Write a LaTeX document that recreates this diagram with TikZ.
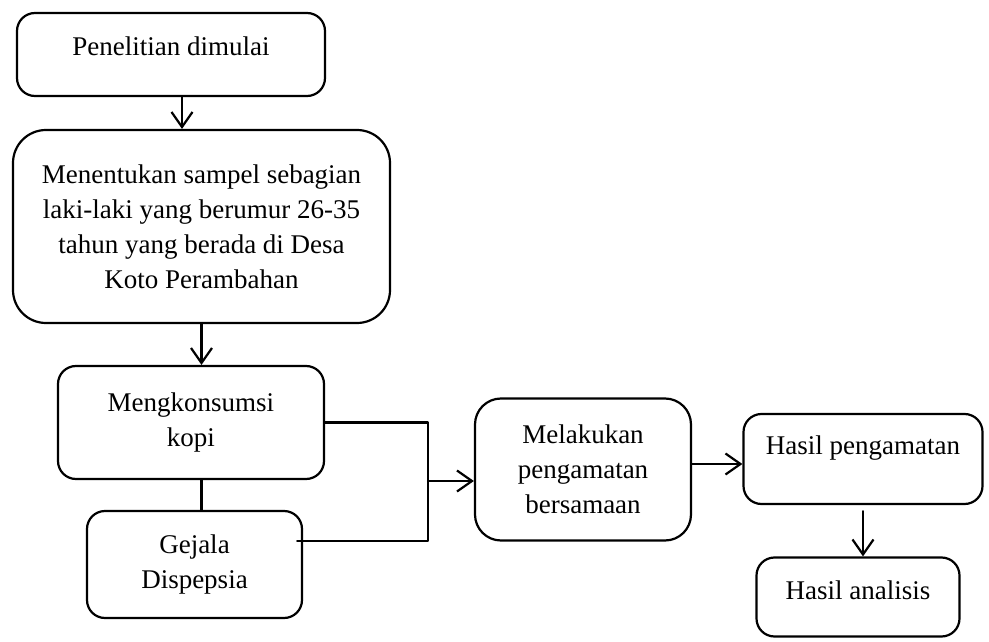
\documentclass[tikz,border=0pt]{standalone}
\usepackage{fontspec}
\setmainfont{Liberation Serif}
\usetikzlibrary{arrows.meta}
\tikzset{
  box/.style={draw,line width=2.2pt,rounded corners=18pt,align=center,inner sep=2pt,font=\fontsize{27}{35}\selectfont},
  flow/.style={line width=2.2pt,-{Straight Barb[length=15pt,width=21pt]}},
  link/.style={line width=2.2pt},
}
\begin{document}
\begin{tikzpicture}[x=1pt,y=-1pt,line cap=round,line join=round]
  \useasboundingbox (0,0) rectangle (989,642);
  \node[box,minimum width=308pt,minimum height=83pt,text height=18pt,text depth=15pt] (mulai) at (171,54.5) {Penelitian dimulai};
  \node[box,rounded corners=33pt,minimum width=377pt,minimum height=193pt] (sampel) at (201.5,226.5) {Menentukan sampel sebagian\\laki-laki yang berumur 26-35\\tahun yang berada di Desa\\Koto Perambahan};
  \node[box,minimum width=266pt,minimum height=113pt] (kopi) at (191,422.5) {Mengkonsumsi\\kopi};
  \node[box,minimum width=215pt,minimum height=107pt] (gejala) at (194.5,564.5) {Gejala\\Dispepsia};
  \node[box,rounded corners=26pt,minimum width=216pt,minimum height=142pt] (amati) at (583,469.5) {Melakukan\\pengamatan\\bersamaan};
  \node[box,minimum width=239pt,minimum height=90pt,text height=18pt,text depth=28pt] (hasil) at (863,459) {Hasil pengamatan};
  \node[box,minimum width=203pt,minimum height=79pt,text height=18pt,text depth=14pt] (analisis) at (858,597) {Hasil analisis};
  \coordinate (simpul) at (428,481);
  \coordinate (bawah) at (428,541);
  \draw[flow] ([xshift=11pt]mulai.south) -- ([xshift=11pt]mulai.south |- sampel.north);
  \draw[flow] (sampel.south) -- (sampel.south |- kopi.north);
  \draw[link] (sampel.south |- kopi.south) -- (sampel.south |- gejala.north);
  \draw[link] (kopi.east) -| (bawah) -- ([xshift=-6pt]gejala.east |- bawah);
  \draw[flow] (simpul) -- (simpul -| amati.west);
  \draw[flow] ([yshift=5.5pt]amati.east) -- ([yshift=5.5pt]amati.east -| hasil.west);
  \draw[flow] ([yshift=-6pt]hasil.south) -- (hasil.south |- analisis.north);
\end{tikzpicture}
\end{document}
